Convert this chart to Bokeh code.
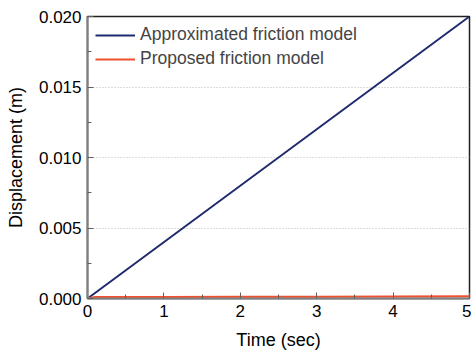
from bokeh.plotting import figure
from bokeh.models import Range1d, FixedTicker, NumeralTickFormatter, Legend, LegendItem
from bokeh.embed import file_html
from bokeh.resources import INLINE

# Data
time_approx = [0.0, 5.0]
disp_approx = [0.0, 0.020]
time_prop = [0.0, 0.1, 1.0, 2.0, 3.0, 4.0, 5.0]
disp_prop = [0.0, 0.0001, 0.00011, 0.00012, 0.00013, 0.00015, 0.00016]
x_ticks = [0, 1, 2, 3, 4, 5]
x_minor = [0.5, 1.5, 2.5, 3.5, 4.5]
y_ticks = [0.0, 0.005, 0.010, 0.015, 0.020]
y_minor = [0.0025, 0.0075, 0.0125, 0.0175]

FONT = "Liberation Sans"

p = figure(width=471, height=354, output_backend="svg", toolbar_location=None,
           x_range=Range1d(0, 5), y_range=Range1d(0, 0.020),
           min_border_left=87, min_border_right=2, min_border_top=16, min_border_bottom=56)

p.outline_line_color = "#202020"
p.outline_line_width = 1.5
p.background_fill_color = "white"
p.border_fill_color = "white"

l1 = p.line(time_approx, disp_approx, line_color="#1f2a6e", line_width=2)
l2 = p.line(time_prop, disp_prop, line_color="#f0502e", line_width=2)

for ax in (p.xaxis[0], p.yaxis[0]):
    ax.axis_line_color = "#808080"
    ax.axis_line_width = 2
    ax.major_tick_in = 6
    ax.major_tick_out = 0
    ax.minor_tick_in = 4
    ax.minor_tick_out = 0
    ax.major_tick_line_color = "#606060"
    ax.minor_tick_line_color = "#606060"
    ax.major_label_text_font = FONT
    ax.major_label_text_font_size = "17px"
    ax.major_label_text_color = "black"
    ax.axis_label_text_font = FONT
    ax.axis_label_text_font_size = "18px"
    ax.axis_label_text_font_style = "normal"
    ax.axis_label_text_color = "black"

p.xaxis[0].ticker = FixedTicker(ticks=x_ticks, minor_ticks=x_minor)
p.yaxis[0].ticker = FixedTicker(ticks=y_ticks, minor_ticks=y_minor)
p.yaxis[0].formatter = NumeralTickFormatter(format="0.000")
p.xaxis[0].axis_label = "Time (sec)"
p.yaxis[0].axis_label = "Displacement (m)"
p.xaxis[0].major_label_standoff = 6
p.yaxis[0].major_label_standoff = 6
p.xaxis[0].axis_label_standoff = 10
p.yaxis[0].axis_label_standoff = 10

p.xgrid.grid_line_color = None
p.ygrid.grid_line_color = "#b8b8b8"
p.ygrid.grid_line_dash = "1 2"
p.ygrid.grid_line_width = 1

legend = Legend(items=[LegendItem(label="Approximated friction model", renderers=[l1]),
                       LegendItem(label="Proposed friction model", renderers=[l2])],
                location="top_left")
legend.border_line_color = None
legend.background_fill_alpha = 0
legend.label_text_font = FONT
legend.label_text_font_size = "17.5px"
legend.glyph_width = 40
legend.glyph_height = 18
legend.label_height = 18
legend.spacing = 3
legend.padding = 2
legend.margin = 8
legend.label_standoff = 5
p.add_layout(legend)

open("out.html", "w").write(file_html(p, INLINE))
